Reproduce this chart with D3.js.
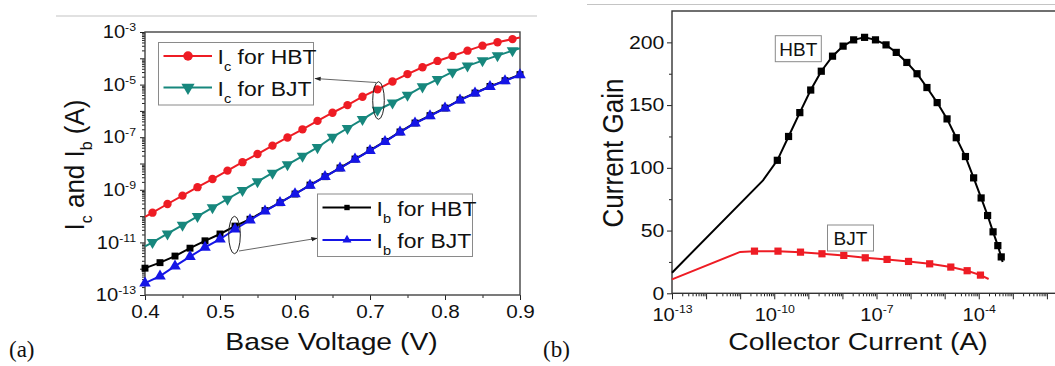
<!DOCTYPE html>
<html lang="en">
<head>
  <meta charset="UTF-8">
  <title>HBT vs BJT</title>
  <style>
    body { margin: 0; background: #fff; }
  </style>
</head>
<body>
<div id="chart"></div>
<script src="https://cdn.jsdelivr.net/npm/d3@7"></script>
<script type="text/javascript">
  // ---- data (currents stored as log10(A)) ----
  // panel (a): Gummel plot
  const vbOdd = [0.40, 0.41, 0.43, 0.45, 0.47, 0.49, 0.51, 0.53, 0.55, 0.57, 0.59, 0.61, 0.63,
    0.65, 0.67, 0.69, 0.71, 0.73, 0.75, 0.77, 0.79, 0.81, 0.83, 0.85, 0.87, 0.89, 0.90];
  const icHBT = [-10.03, -9.87, -9.54, -9.22, -8.90, -8.59, -8.27, -7.95, -7.64, -7.32, -7.01, -6.70, -6.38,
    -6.07, -5.78, -5.46, -5.18, -4.88, -4.60, -4.34, -4.10, -3.91, -3.71, -3.52, -3.39, -3.27, -3.21];
  const icBJT = [-11.15, -11.00, -10.67, -10.34, -10.01, -9.68, -9.35, -9.02, -8.69, -8.36, -8.04, -7.72, -7.39,
    -7.00, -6.66, -6.32, -5.97, -5.69, -5.40, -5.08, -4.80, -4.52, -4.29, -4.09, -3.90, -3.71, -3.62];

  const vbEven = [0.40, 0.42, 0.44, 0.46, 0.48, 0.50, 0.52, 0.54, 0.56, 0.58, 0.60, 0.62, 0.64,
    0.66, 0.68, 0.70, 0.72, 0.74, 0.76, 0.78, 0.80, 0.82, 0.84, 0.86, 0.88, 0.90];
  const ibHBT = [-11.98, -11.77, -11.52, -11.22, -10.94, -10.68, -10.38, -10.12, -9.79, -9.49, -9.16, -8.82, -8.50,
    -8.17, -7.83, -7.50, -7.16, -6.80, -6.46, -6.18, -5.89, -5.58, -5.32, -5.07, -4.85, -4.62];
  const ibBJT = [-12.55, -12.28, -11.90, -11.54, -11.19, -10.88, -10.50, -10.15, -9.81, -9.49, -9.16, -8.83, -8.50,
    -8.18, -7.84, -7.51, -7.17, -6.81, -6.47, -6.19, -5.90, -5.59, -5.33, -5.08, -4.86, -4.63];

  const xTicksA = [0.4, 0.5, 0.6, 0.7, 0.8, 0.9];
  const xMinorA = [0.45, 0.55, 0.65, 0.75, 0.85];
  const yExpA = [-13, -12, -11, -10, -9, -8, -7, -6, -5, -4, -3];
  const yLabelExpA = [-13, -11, -9, -7, -5, -3];

  // panel (b): current gain vs collector current
  const hbtLogIc = [-13, -10.33, -9.91, -9.58, -9.25, -8.93, -8.62, -8.29, -7.98, -7.67, -7.35, -7.03, -6.72, -6.42,
    -6.11, -5.81, -5.52, -5.22, -4.93, -4.66, -4.39, -4.15, -3.93, -3.74, -3.58, -3.44, -3.34, -3.30];
  const hbtGain = [16.4, 90, 106, 125, 144, 162, 177, 189, 197, 202, 204, 202, 198, 192,
    184, 175, 164, 152, 139, 124, 109, 92, 76, 62, 49, 38, 29, 25];
  const bjtLogIc = [-13, -11.0, -10.58, -9.89, -9.23, -8.60, -7.96, -7.33, -6.69, -6.06, -5.44, -4.82, -4.34, -3.95, -3.71];
  const bjtGain = [11.1, 33, 33.6, 33.6, 32.8, 31.5, 30.2, 28.3, 27, 25.4, 23.5, 20.9, 18, 14.5, 11.4];

  const xExpB = [-13, -12, -11, -10, -9, -8, -7, -6, -5, -4, -3, -2, -1];
  const xLabelExpB = [-13, -10, -7, -4];
  const yTicksB = [0, 50, 100, 150, 200];
  const yMinorB = [25, 75, 125, 175];

  const RED = '#ee1c24', TEAL = '#17877d', BLUE = '#1515e6', BLACK = '#000';
  const FONT = 'Liberation Sans, Arial, sans-serif';

  const svg = d3.select('#chart').append('svg')
    .attr('width', 1055).attr('height', 366)
    .style('font-family', FONT);

  // page separator lines on top
  svg.append('line').attr('x1', 56).attr('x2', 537).attr('y1', 16).attr('y2', 16)
    .attr('stroke', '#c4c4c4').attr('stroke-width', 1.2);
  svg.append('line').attr('x1', 587).attr('x2', 1055).attr('y1', 4.5).attr('y2', 4.5)
    .attr('stroke', '#c4c4c4').attr('stroke-width', 1.2);

  // helper: stretched text
  function stext(g, x, y, sx, size, anchor, rot) {
    return g.append('text')
      .attr('transform', `translate(${x},${y}) scale(${sx},1)` + (rot ? ' rotate(-90)' : ''))
      .attr('font-size', size)
      .attr('text-anchor', anchor || 'start');
  }

  function minorsOf(exps) {
    const out = [];
    exps.forEach(e => { for (let m = 2; m <= 9; m++) out.push(m * Math.pow(10, e)); });
    return out;
  }

  function styleAxis(g) {
    g.select('.domain').remove();
    g.selectAll('.tick line').attr('stroke', '#222').attr('stroke-width', 1);
    g.attr('font-family', FONT);
  }

  function expLabels(g, labelled, sx, supDy) {
    g.selectAll('.tick text').each(function (d) {
      const e = Math.round(Math.log10(d));
      const t = d3.select(this);
      t.text(null).attr('font-size', 18).attr('fill', '#111');
      if (!labelled.includes(e)) return;
      t.append('tspan').text('10');
      t.append('tspan').attr('dy', supDy).attr('font-size', 11).text(String(e));
      t.attr('transform', `scale(${sx},1)`);
    });
  }

  // =================== panel (a) ===================
  const xA = d3.scaleLinear().domain([0.4, 0.9]).range([145, 520]);
  const yA = d3.scaleLog().domain([1e-13, 1e-3]).range([295, 32]);
  const gA = svg.append('g');

  // x axis
  gA.append('g').attr('transform', 'translate(0,295)')
    .call(d3.axisBottom(xA).tickValues(xMinorA).tickSize(3).tickFormat(''))
    .call(styleAxis);
  gA.append('g').attr('transform', 'translate(0,295)')
    .call(d3.axisBottom(xA).tickValues(xTicksA).tickSize(5).tickPadding(5).tickFormat(d3.format('.1f')))
    .call(styleAxis)
    .call(g => g.selectAll('.tick text').attr('font-size', 18).attr('fill', '#111')
      .attr('transform', 'scale(1.15,1)'));

  // y axis
  gA.append('g').attr('transform', 'translate(145,0)')
    .call(d3.axisLeft(yA).tickValues(minorsOf(yExpA.slice(0, -1))).tickSize(3).tickFormat(''))
    .call(styleAxis);
  gA.append('g').attr('transform', 'translate(145,0)')
    .call(d3.axisLeft(yA).tickValues(yExpA.map(e => Math.pow(10, e))).tickSize(5).tickPadding(3).tickFormat(''))
    .call(styleAxis)
    .call(g => expLabels(g, yLabelExpA, 1.12, -7));

  // frame
  gA.append('rect').attr('x', 145).attr('y', 32).attr('width', 375).attr('height', 263)
    .attr('fill', 'none').attr('stroke', '#444').attr('stroke-width', 1.4);

  const lineA = d3.line().x(d => xA(d.v)).y(d => yA(Math.pow(10, d.l)));
  const seriesA = [
    { v: vbOdd, l: icHBT, color: RED, sym: d3.symbolCircle, size: 55, rot: 0, skipEnds: true },
    { v: vbOdd, l: icBJT, color: TEAL, sym: d3.symbolTriangle, size: 58, rot: 180, skipEnds: true },
    { v: vbEven, l: ibHBT, color: BLACK, sym: d3.symbolSquare, size: 48, rot: 0, skipEnds: false },
    { v: vbEven, l: ibBJT, color: BLUE, sym: d3.symbolTriangle, size: 58, rot: 0, skipEnds: false },
  ];
  seriesA.forEach(s => {
    const pts = s.v.map((v, i) => ({ v: v, l: s.l[i] }));
    gA.append('path').datum(pts).attr('d', lineA)
      .attr('fill', 'none').attr('stroke', s.color).attr('stroke-width', 2);
    const mk = s.skipEnds ? pts.slice(1, -1) : pts;
    gA.selectAll(null).data(mk).join('path')
      .attr('d', d3.symbol().type(s.sym).size(s.size))
      .attr('transform', d => `translate(${xA(d.v)},${yA(Math.pow(10, d.l))}) rotate(${s.rot})`)
      .attr('fill', s.color);
  });

  // ellipses + arrows
  const defs = svg.append('defs');
  defs.append('marker').attr('id', 'ah').attr('viewBox', '0 0 10 10').attr('refX', 9).attr('refY', 5)
    .attr('markerWidth', 7).attr('markerHeight', 7).attr('orient', 'auto')
    .append('path').attr('d', 'M0,1.5 L10,5 L0,8.5 z').attr('fill', '#222');

  gA.append('ellipse').attr('cx', 378.5).attr('cy', 100.5).attr('rx', 5.8).attr('ry', 18.8)
    .attr('fill', 'none').attr('stroke', '#222').attr('stroke-width', 1);
  gA.append('line').attr('x1', 376).attr('y1', 82.5).attr('x2', 315).attr('y2', 78.5)
    .attr('stroke', '#555').attr('stroke-width', 0.9).attr('marker-end', 'url(#ah)');
  gA.append('ellipse').attr('cx', 234.5).attr('cy', 235).attr('rx', 5.8).attr('ry', 18.7)
    .attr('fill', 'none').attr('stroke', '#222').attr('stroke-width', 1);
  gA.append('line').attr('x1', 239).attr('y1', 251).attr('x2', 317).attr('y2', 238.3)
    .attr('stroke', '#555').attr('stroke-width', 0.9).attr('marker-end', 'url(#ah)');

  // legends
  function legendBox(x, y, w, h, rows, symScale) {
    gA.append('rect').attr('x', x).attr('y', y).attr('width', w).attr('height', h)
      .attr('fill', '#fff').attr('stroke', '#8a8a8a').attr('stroke-width', 1);
    rows.forEach(r => {
      gA.append('line').attr('x1', x + 5).attr('x2', x + 53.5).attr('y1', r.y).attr('y2', r.y)
        .attr('stroke', r.s.color).attr('stroke-width', 2);
      gA.append('path').attr('d', d3.symbol().type(r.s.sym).size(r.s.size * symScale))
        .attr('transform', `translate(${x + 29.5},${r.y}) rotate(${r.s.rot})`)
        .attr('fill', r.s.color);
      const t = stext(gA, x + 59, r.y + 8, 1.12, 20.5, 'start').attr('fill', '#111');
      t.append('tspan').text('I');
      t.append('tspan').attr('font-size', 13).attr('dy', 7).text(r.sub);
      t.append('tspan').attr('dy', -7).text(' for ' + r.dev);
    });
  }
  legendBox(158.5, 42.5, 155, 62.5, [
    { y: 56, s: seriesA[0], sub: 'c', dev: 'HBT' },
    { y: 87.5, s: seriesA[1], sub: 'c', dev: 'BJT' },
  ], 1.3);
  legendBox(317.5, 194, 155, 62.5, [
    { y: 207.5, s: seriesA[2], sub: 'b', dev: 'HBT' },
    { y: 240, s: seriesA[3], sub: 'b', dev: 'BJT' },
  ], 0.6);

  // axis titles (a)
  stext(svg, 331.5, 350, 1.18, 24, 'middle').attr('fill', '#111').text('Base Voltage (V)');
  const yt = stext(svg, 84, 165, 1.05, 26, 'middle', true).attr('fill', '#111');
  yt.append('tspan').text('I');
  yt.append('tspan').attr('font-size', 16).attr('dy', 8).text('c');
  yt.append('tspan').attr('dy', -8).text(' and I');
  yt.append('tspan').attr('font-size', 16).attr('dy', 8).text('b');
  yt.append('tspan').attr('dy', -8).text(' (A)');

  // =================== panel (b) ===================
  const xB = d3.scaleLog().domain([1e-13, 1e-1]).range([672, 1081]);
  const yB = d3.scaleLinear().domain([0, 225]).range([293.3, 11]);
  const gB = svg.append('g');

  gB.append('g').attr('transform', 'translate(0,293.3)')
    .call(d3.axisBottom(xB).tickValues(minorsOf(xExpB.slice(0, -1))).tickSize(3).tickFormat(''))
    .call(styleAxis);
  gB.append('g').attr('transform', 'translate(0,293.3)')
    .call(d3.axisBottom(xB).tickValues(xExpB.map(e => Math.pow(10, e))).tickSize(6).tickPadding(9).tickFormat(''))
    .call(styleAxis)
    .call(g => expLabels(g, xLabelExpB, 1.12, -8));

  gB.append('g').attr('transform', 'translate(672,0)')
    .call(d3.axisLeft(yB).tickValues(yMinorB).tickSize(3).tickFormat(''))
    .call(styleAxis);
  gB.append('g').attr('transform', 'translate(672,0)')
    .call(d3.axisLeft(yB).tickValues(yTicksB).tickSize(5).tickPadding(1.5))
    .call(styleAxis)
    .call(g => g.selectAll('.tick text').attr('font-size', 18).attr('fill', '#111')
      .attr('transform', 'scale(1.18,1)'));

  gB.append('rect').attr('x', 672).attr('y', 11).attr('width', 409).attr('height', 282.3)
    .attr('fill', 'none').attr('stroke', '#333').attr('stroke-width', 1.4);

  const lineB = d3.line().x(d => xB(Math.pow(10, d.l))).y(d => yB(d.g));
  const seriesB = [
    { l: hbtLogIc, g: hbtGain, color: BLACK, from: 2, to: -1 },
    { l: bjtLogIc, g: bjtGain, color: RED, from: 2, to: -1 },
  ];
  seriesB.forEach(s => {
    const pts = s.l.map((l, i) => ({ l: l, g: s.g[i] }));
    gB.append('path').datum(pts).attr('d', lineB)
      .attr('fill', 'none').attr('stroke', s.color).attr('stroke-width', 2);
    gB.selectAll(null).data(pts.slice(s.from, s.to)).join('path')
      .attr('d', d3.symbol().type(d3.symbolSquare).size(52))
      .attr('transform', d => `translate(${xB(Math.pow(10, d.l))},${yB(d.g)})`)
      .attr('fill', s.color);
  });

  // device labels
  function tagBox(cx, cy, txt) {
    const w = 46, h = 26;
    gB.append('rect').attr('x', cx - w / 2).attr('y', cy - h / 2).attr('width', w).attr('height', h)
      .attr('fill', '#fff').attr('stroke', '#8a8a8a').attr('stroke-width', 1);
    gB.append('text').attr('x', cx).attr('y', cy + 7).attr('text-anchor', 'middle')
      .attr('font-size', 19).attr('fill', '#111').text(txt);
  }
  tagBox(798.3, 48.7, 'HBT');
  tagBox(850.5, 238, 'BJT');

  stext(svg, 858, 350, 1.18, 24, 'middle').attr('fill', '#111').text('Collector Current (A)');
  stext(svg, 623, 153, 1.1, 26, 'middle', true).attr('fill', '#111').text('Current Gain');

  // panel tags
  svg.append('text').attr('x', 9).attr('y', 357).attr('font-family', 'Liberation Serif, Times New Roman, serif')
    .attr('font-size', 23).attr('fill', '#111').text('(a)');
  svg.append('text').attr('x', 543).attr('y', 357).attr('font-family', 'Liberation Serif, Times New Roman, serif')
    .attr('font-size', 23).attr('fill', '#111').text('(b)');
</script>
</body>
</html>
